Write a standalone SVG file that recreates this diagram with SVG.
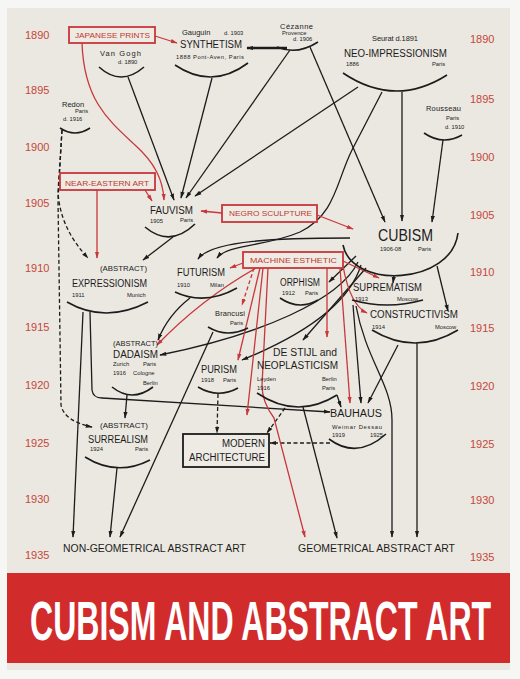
<svg xmlns="http://www.w3.org/2000/svg" width="520" height="679" viewBox="0 0 520 679">
<defs>
<marker id="ab" viewBox="0 0 10 6" refX="9" refY="3" markerWidth="7" markerHeight="5" markerUnits="userSpaceOnUse" orient="auto"><path d="M0,0 L10,3 L0,6 z" fill="#1c1c1c"/></marker>
<marker id="ar" viewBox="0 0 10 6" refX="9" refY="3" markerWidth="7" markerHeight="5" markerUnits="userSpaceOnUse" orient="auto"><path d="M0,0 L10,3 L0,6 z" fill="#c8373a"/></marker>
<style>
text{font-family:"Liberation Sans",Arial,sans-serif;fill:#1c1c1c}
.n{font-size:10px}
.a{font-size:8px}
.big{font-size:17px}
.m{font-size:7.5px}
.s{font-size:5.8px}
.yr{font-size:11px;fill:#c4473b}
.rt{font-size:8px;fill:#c0392b}
.t{font-size:55px;font-weight:bold;fill:#ffffff}
.arc{fill:none;stroke:#1c1c1c;stroke-width:1.6}
.k{fill:none;stroke:#1c1c1c;stroke-width:1.3;marker-end:url(#ab)}
.r{fill:none;stroke:#c8373a;stroke-width:1.3;marker-end:url(#ar)}
.d{stroke-dasharray:4 2.5}
.box{fill:#eeebe5;stroke:#c8373a;stroke-width:1.8}
.bb{fill:#eeebe5;stroke:#1c1c1c;stroke-width:1.8}
</style>
</defs>
<rect x="0" y="0" width="520" height="679" fill="#f6f6f4"/>
<rect x="7" y="8" width="503" height="662" fill="#ebe8e1"/>
<rect x="7" y="573" width="503" height="90" fill="#d22b2b"/>
<text class="t" transform="translate(30 640) scale(0.583 1)" x="0" y="0">CUBISM AND ABSTRACT ART</text>

<g id="years">
<text class="yr" x="25" y="39">1890</text>
<text class="yr" x="25" y="94">1895</text>
<text class="yr" x="25" y="151">1900</text>
<text class="yr" x="25" y="207">1905</text>
<text class="yr" x="25" y="272">1910</text>
<text class="yr" x="25" y="331">1915</text>
<text class="yr" x="25" y="389">1920</text>
<text class="yr" x="25" y="447">1925</text>
<text class="yr" x="25" y="503">1930</text>
<text class="yr" x="25" y="559">1935</text>
<text class="yr" x="470" y="43">1890</text>
<text class="yr" x="470" y="103">1895</text>
<text class="yr" x="470" y="161">1900</text>
<text class="yr" x="470" y="219">1905</text>
<text class="yr" x="470" y="276">1910</text>
<text class="yr" x="470" y="332">1915</text>
<text class="yr" x="470" y="390">1920</text>
<text class="yr" x="470" y="448">1925</text>
<text class="yr" x="470" y="504">1930</text>
<text class="yr" x="470" y="561">1935</text>
</g>

<g id="connectors">
<path class="k" style="stroke-width:2.4" d="M287 48 L247 48"/>
<path class="k" d="M128 77 L174 200"/>
<path class="k" d="M212 78 L181 198"/>
<path class="k" d="M290 50 L186 198"/>
<path class="k" d="M310 47 L385 222"/>
<path class="k" d="M358 87 L195 196"/>
<path class="k" d="M382 92 L352 150 C336 182 336 214 300 232 C265 247 228 244 217 258"/>
<path class="k" d="M402 92 L402 221"/>
<path class="k" d="M443 140 L432 222"/>
<path class="k d" d="M62 130 L58 192 Q60 228 88 258"/>
<path class="k d" d="M62 130 L58 200 L61 405 Q64 421 92 427"/>
<path class="k" d="M173 237 L143 260"/>
<path class="k" d="M350 238 C280 238 212 240 198 259"/>
<path class="k" d="M356 256 L329 282"/>
<path class="k" d="M358 262 C340 300 260 335 160 355"/>
<path class="k" d="M361 265 Q345 318 242 360"/>
<path class="k" d="M366 268 L303 340"/>
<path class="k" d="M394 275 L393 283"/>
<path class="k" d="M437 266 L448 311"/>
<path class="k" d="M190 298 Q168 315 158 340"/>
<path class="k" d="M83 312 L73 537"/>
<path class="k" d="M90 312 L92 390 Q93 398 102 398 L330 412"/>
<path class="k" d="M127 395 L125 418"/>
<path class="k" d="M117 468 L110 537"/>
<path class="k" d="M213 332 L120 537"/>
<path class="k d" d="M218 394 L217 433"/>
<path class="k" d="M337 395 L341 407"/>
<path class="k d" d="M285 408 L267 433"/>
<path class="k" d="M303 407 L337 538"/>
<path class="k d" d="M330 443 L270 443"/>
<path class="k" d="M353 305 L361 403"/>
<path class="k" d="M356 306 C366 360 392 385 392 420 L392 537"/>
<path class="k" d="M398 345 L368 403"/>
<path class="k" d="M417 343 L417 537"/>
<path class="r" d="M155 36 L177 43"/>
<path class="r" d="M82 43 C84 100 108 120 135 145 C155 163 163 180 164 200"/>
<path class="r" d="M145 190 L152 201"/>
<path class="r" d="M97 190 L97 258"/>
<path class="r" d="M222 213 L201 211"/>
<path class="r" d="M317 215 L353 229"/>
<path class="r" d="M243 263 L230 268"/>
<path class="r" d="M256 268 Q200 300 157 345"/>
<path class="r d" d="M254 268 L242 305"/>
<path class="r" d="M260 268 L238 360"/>
<path class="r" d="M263 268 L247 415"/>
<path class="r" d="M268 268 L262 385 Q262 402 274 418 L305 537"/>
<path class="r" d="M327 268 L327 337"/>
<path class="r" d="M340 268 L350 403"/>
<path class="r" d="M343 266 Q350 305 367 313"/>
<path class="r" d="M343 261 L379 278"/>
</g>

<g id="japanese-prints"><rect class="box" x="69" y="27" width="86" height="16"/><text class="rt" x="75" y="38" textLength="75" lengthAdjust="spacingAndGlyphs">JAPANESE PRINTS</text></g>
<g id="near-eastern-art"><rect class="box" x="60" y="173" width="95" height="17"/><text class="rt" x="65" y="186" textLength="84" lengthAdjust="spacingAndGlyphs">NEAR-EASTERN ART</text></g>
<g id="negro-sculpture"><rect class="box" x="222" y="205" width="95" height="17"/><text class="rt" x="229" y="216" textLength="83" lengthAdjust="spacingAndGlyphs">NEGRO SCULPTURE</text></g>
<g id="machine-esthetic"><rect class="box" x="243" y="252" width="100" height="16"/><text class="rt" x="250" y="263" textLength="87" lengthAdjust="spacingAndGlyphs">MACHINE ESTHETIC</text></g>

<g id="van-gogh"><text class="m" x="100" y="56" textLength="41">Van Gogh</text><text class="s" x="118" y="64">d. 1890</text><path class="arc" d="M99 67 Q121 87 144 67"/></g>
<g id="synthetism"><text class="m" x="182" y="35">Gauguin</text><text class="s" x="224" y="35">d. 1903</text><text class="n" x="180" y="48" textLength="62" lengthAdjust="spacingAndGlyphs">SYNTHETISM</text><text class="s" x="176" y="59" textLength="68">1888 Pont-Aven, Paris</text><path class="arc" d="M175 65 Q212 90 248 63"/></g>
<g id="cezanne"><text class="m" x="280" y="29" textLength="33">Cézanne</text><text class="s" x="282" y="35">Provence</text><text class="s" x="293" y="41">d. 1906</text><path class="arc" d="M277 47 Q297 55.5 318 42"/></g>
<g id="neo-impressionism"><text class="m" x="372" y="41" textLength="46">Seurat d.1891</text><text class="n" x="344" y="57" textLength="103" lengthAdjust="spacingAndGlyphs">NEO-IMPRESSIONISM</text><text class="s" x="346" y="66">1886</text><text class="s" x="432" y="66">Paris</text><path class="arc" d="M343 73 Q395 108 447 75"/></g>
<g id="redon"><text class="m" x="62" y="107">Redon</text><text class="s" x="75" y="113">Paris</text><text class="s" x="63" y="121">d. 1916</text><path class="arc" d="M60 128 Q75 138 90 128"/></g>
<g id="rousseau"><text class="m" x="426" y="111" textLength="35">Rousseau</text><text class="s" x="446" y="120">Paris</text><text class="s" x="445" y="129">d. 1910</text><path class="arc" d="M424 133 Q443 146 462 135"/></g>
<g id="fauvism"><text class="n" x="150" y="214" textLength="43" lengthAdjust="spacingAndGlyphs">FAUVISM</text><text class="s" x="150" y="223">1905</text><text class="s" x="180" y="222">Paris</text><path class="arc" d="M145 227 Q170 248 195 224"/></g>
<g id="cubism"><text class="big" x="378" y="241" textLength="55" lengthAdjust="spacingAndGlyphs">CUBISM</text><text class="s" x="380" y="251">1906-08</text><text class="s" x="418" y="251">Paris</text><path class="arc" d="M458 233 C452 285 352 290 343 245"/></g>
<g id="expressionism"><text class="a" x="100" y="271" textLength="47" lengthAdjust="spacingAndGlyphs">(ABSTRACT)</text><text class="n" x="72" y="287" textLength="75" lengthAdjust="spacingAndGlyphs">EXPRESSIONISM</text><text class="s" x="72" y="297">1911</text><text class="s" x="127" y="297">Munich</text><path class="arc" d="M67 302 Q105 324 148 302"/></g>
<g id="futurism"><text class="n" x="177" y="276" textLength="48" lengthAdjust="spacingAndGlyphs">FUTURISM</text><text class="s" x="177" y="287">1910</text><text class="s" x="210" y="287">Milan</text><path class="arc" d="M175 292 Q205 306 237 288"/></g>
<g id="orphism"><text class="n" x="280" y="286" textLength="40" lengthAdjust="spacingAndGlyphs">ORPHISM</text><text class="s" x="282" y="295">1912</text><text class="s" x="305" y="295">Paris</text><path class="arc" d="M280 298 Q299 311 318 300"/></g>
<g id="brancusi"><text class="m" x="215" y="316" textLength="30">Brancusi</text><text class="s" x="230" y="325">Paris</text><path class="arc" d="M208 327 Q227 338.5 248 328"/></g>
<g id="suprematism"><text class="n" x="353" y="291" textLength="69" lengthAdjust="spacingAndGlyphs">SUPREMATISM</text><text class="s" x="355" y="301">1913</text><text class="s" x="397" y="301">Moscow</text><path class="arc" d="M352 300 Q387 310 423 300"/></g>
<g id="constructivism"><text class="n" x="370" y="318" textLength="88" lengthAdjust="spacingAndGlyphs">CONSTRUCTIVISM</text><text class="s" x="372" y="329">1914</text><text class="s" x="435" y="329">Moscow</text><path class="arc" d="M372 330 Q415 356 458 330"/></g>
<g id="dadaism"><text class="a" x="113" y="346" textLength="45" lengthAdjust="spacingAndGlyphs">(ABSTRACT)</text><text class="n" x="113" y="358" textLength="45" lengthAdjust="spacingAndGlyphs">DADAISM</text><text class="s" x="113" y="366">Zurich</text><text class="s" x="143" y="366">Paris</text><text class="s" x="113" y="375">1916</text><text class="s" x="133" y="375">Cologne</text><text class="s" x="143" y="385">Berlin</text><path class="arc" d="M112 387 Q132 403 153 387"/></g>
<g id="de-stijl"><text class="n" x="273" y="356" textLength="64" lengthAdjust="spacingAndGlyphs">DE STIJL and</text><text class="n" x="257" y="369" textLength="81" lengthAdjust="spacingAndGlyphs">NEOPLASTICISM</text><text class="s" x="257" y="381">Leyden</text><text class="s" x="257" y="390">1916</text><text class="s" x="322" y="381">Berlin</text><text class="s" x="322" y="390">Paris</text><path class="arc" d="M257 393 Q297 420 337 395"/></g>
<g id="purism"><text class="n" x="201" y="373" textLength="36" lengthAdjust="spacingAndGlyphs">PURISM</text><text class="s" x="201" y="382">1918</text><text class="s" x="223" y="382">Paris</text><path class="arc" d="M198 387 Q218 399 238 388"/></g>
<g id="bauhaus"><text class="n" x="330" y="417" textLength="52" lengthAdjust="spacingAndGlyphs">BAUHAUS</text><text class="s" x="332" y="429" textLength="50">Weimar Dessau</text><text class="s" x="332" y="437">1919</text><text class="s" x="370" y="437">1925</text><path class="arc" d="M329 439 Q357 460 386 434"/></g>
<g id="surrealism"><text class="a" x="100" y="428" textLength="48" lengthAdjust="spacingAndGlyphs">(ABSTRACT)</text><text class="n" x="88" y="443" textLength="60" lengthAdjust="spacingAndGlyphs">SURREALISM</text><text class="s" x="90" y="451">1924</text><text class="s" x="135" y="451">Paris</text><path class="arc" d="M85 457 Q117 477 150 460"/></g>
<g id="modern-architecture"><rect class="bb" x="183" y="434" width="86" height="33"/><text class="n" x="222" y="447" textLength="43" lengthAdjust="spacingAndGlyphs">MODERN</text><text class="n" x="189" y="461" textLength="76" lengthAdjust="spacingAndGlyphs">ARCHITECTURE</text></g>
<g id="non-geometrical"><text class="n" x="63" y="552" textLength="183" lengthAdjust="spacingAndGlyphs">NON-GEOMETRICAL ABSTRACT ART</text></g>
<g id="geometrical"><text class="n" x="298" y="552" textLength="157" lengthAdjust="spacingAndGlyphs">GEOMETRICAL ABSTRACT ART</text></g>
</svg>
